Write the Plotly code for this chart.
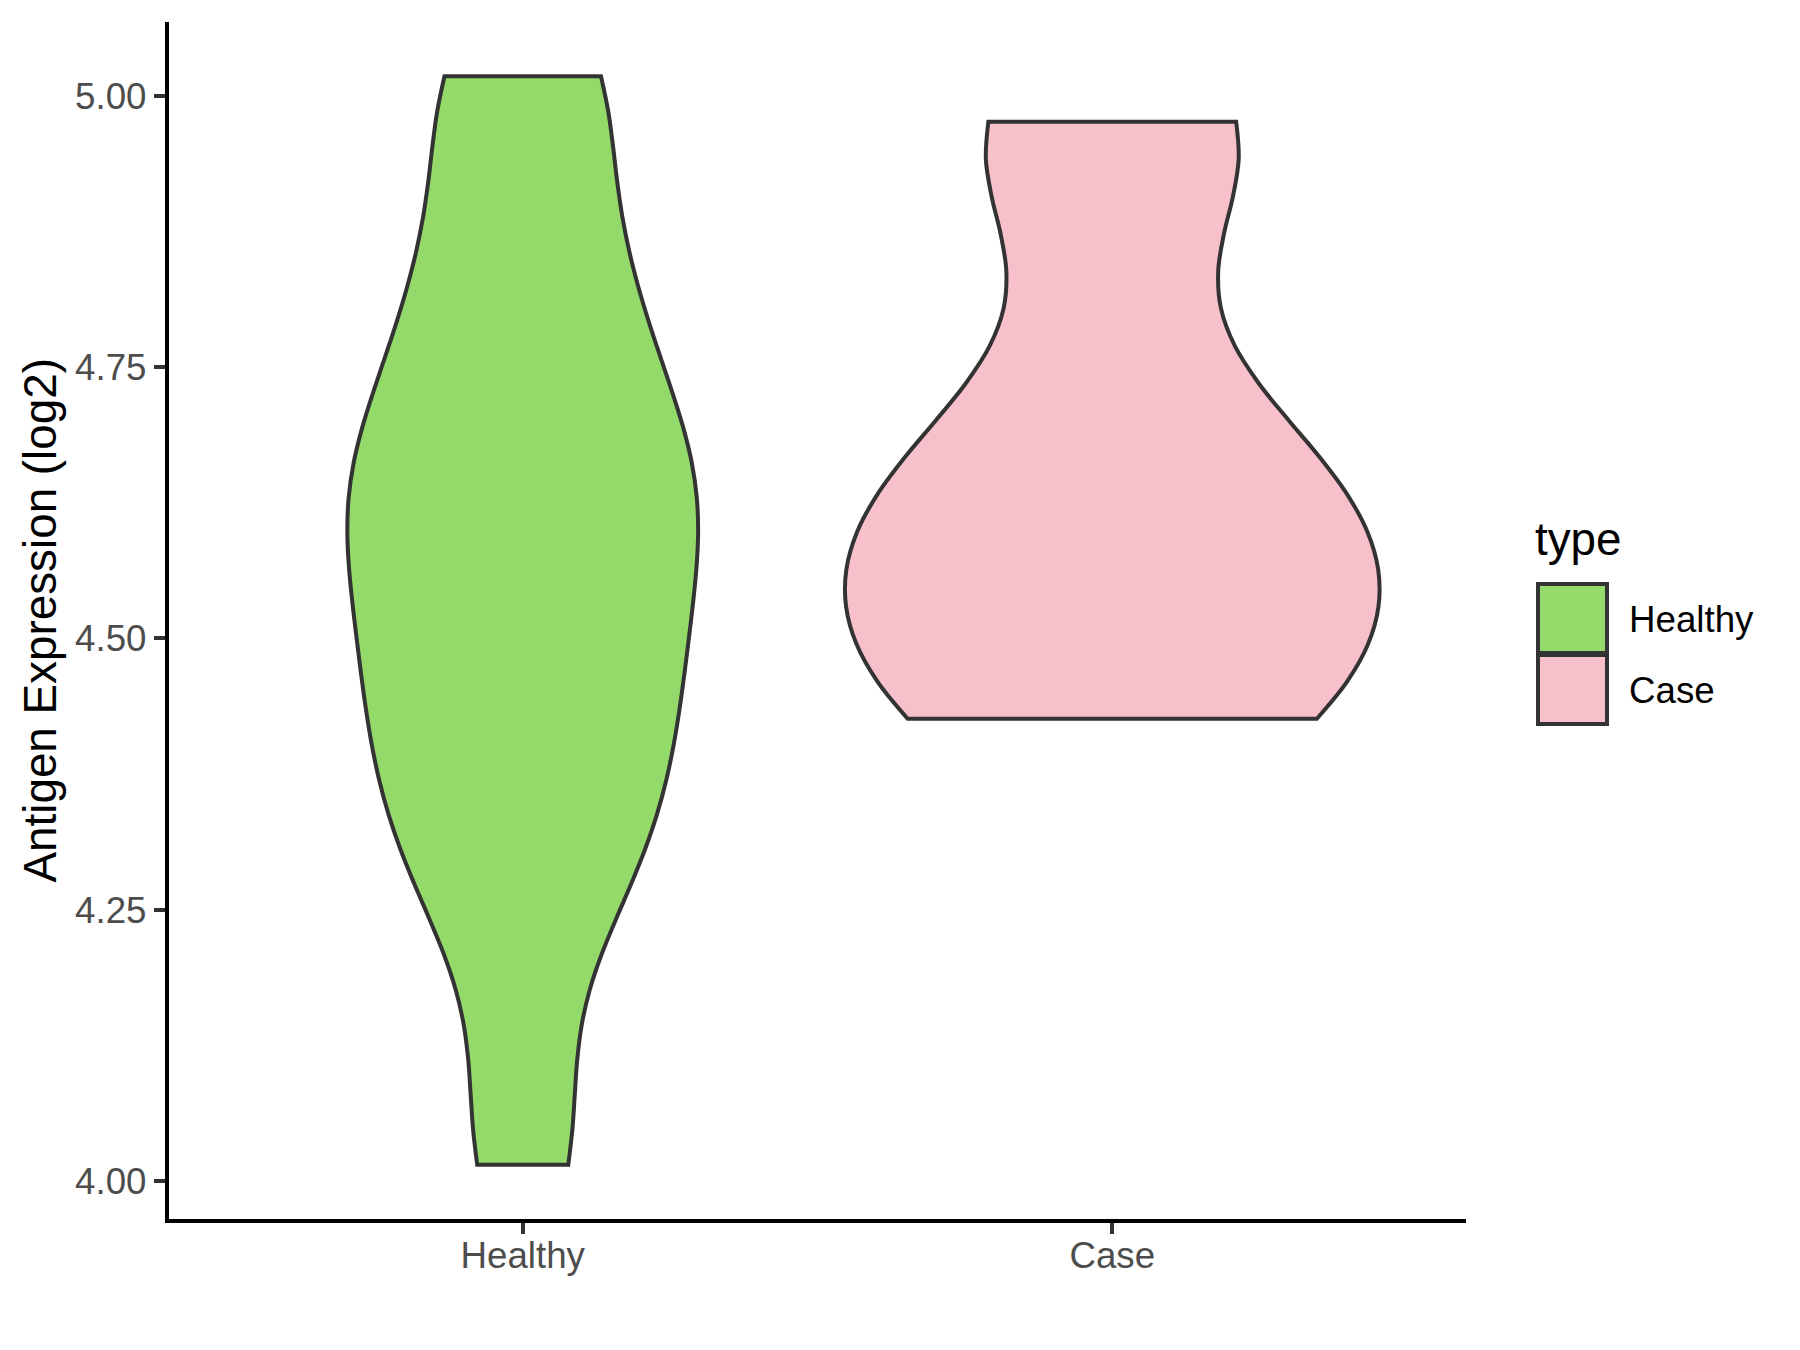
import plotly.graph_objects as go

# data (log2 antigen expression per sample)
groups = ["Healthy", "Case"]
healthy_expr = [4.015, 4.057, 4.230, 4.273, 4.318, 4.353, 4.372, 4.445, 4.450, 4.489,
                4.510, 4.562, 4.606, 4.634, 4.639, 4.658, 4.684, 4.735, 4.812, 4.820,
                4.858, 5.002, 5.013, 5.018]
case_expr = [4.426, 4.426, 4.426, 4.427, 4.448, 4.498, 4.530, 4.537, 4.564, 4.583,
             4.609, 4.633, 4.636, 4.661, 4.681, 4.760, 4.926, 4.962, 4.976, 4.976, 4.976]
y_ticks = [4.00, 4.25, 4.50, 4.75, 5.00]

fills = ["#93DA6A", "#F7C0CB"]
widths = [0.595, 0.903]
bandwidths = [0.100, 0.105]

# plot area in pixels
L, R, T, B = 161, 1458, 14, 1211


def px(x):
    return (x - L) / (R - L)


def py(y):
    return (B - y) / (B - T)


fig = go.Figure()
for name, vals, col, wd, bw in zip(groups, [healthy_expr, case_expr], fills, widths, bandwidths):
    fig.add_trace(go.Violin(
        x=[name] * len(vals), y=vals, name=name,
        fillcolor=col, line=dict(color="#333333", width=4),
        width=wd, bandwidth=bw, spanmode="hard", scalemode="width",
        points=False, showlegend=False, hoverinfo="skip"))

axis_style = dict(showline=True, linecolor="black", linewidth=4.4,
                  ticks="outside", ticklen=11, tickwidth=4.4, tickcolor="#333333",
                  tickfont=dict(size=36.7, color="#4D4D4D"),
                  showgrid=False, zeroline=False)

fig.update_layout(
    width=1800, height=1350,
    margin=dict(l=L, r=1800 - R, t=T, b=1350 - B),
    plot_bgcolor="white", paper_bgcolor="white",
    violinmode="overlay",
    font=dict(family="Liberation Sans, Arial, sans-serif", color="black"),
    xaxis=dict(type="category", categoryorder="array", categoryarray=groups,
               range=[-0.6, 1.6], ticklabelstandoff=-10, **axis_style),
    yaxis=dict(range=[3.965, 5.068], tickvals=y_ticks, tickformat=".2f", **axis_style),
)

# y axis title
fig.add_annotation(text="Antigen Expression (log2)", xref="paper", yref="paper",
                   x=px(32), y=0.5, textangle=-90, showarrow=False,
                   xanchor="center", yanchor="middle", font=dict(size=45.8))

# legend drawn by hand (ggplot-style square keys)
fig.add_annotation(text="type", xref="paper", yref="paper", x=px(1525), y=py(531),
                   xanchor="left", yanchor="middle", showarrow=False, font=dict(size=45.8))
key_tops = [576, 647]
for name, col, top in zip(groups, fills, key_tops):
    fig.add_shape(type="rect", xref="paper", yref="paper",
                  x0=px(1530), x1=px(1599), y0=py(top + 69), y1=py(top),
                  fillcolor=col, line=dict(color="#333333", width=4))
    fig.add_annotation(text=name, xref="paper", yref="paper", x=px(1619), y=py(top + 35),
                       xanchor="left", yanchor="middle", showarrow=False,
                       font=dict(size=36.7))

fig.write_html("out.html")
